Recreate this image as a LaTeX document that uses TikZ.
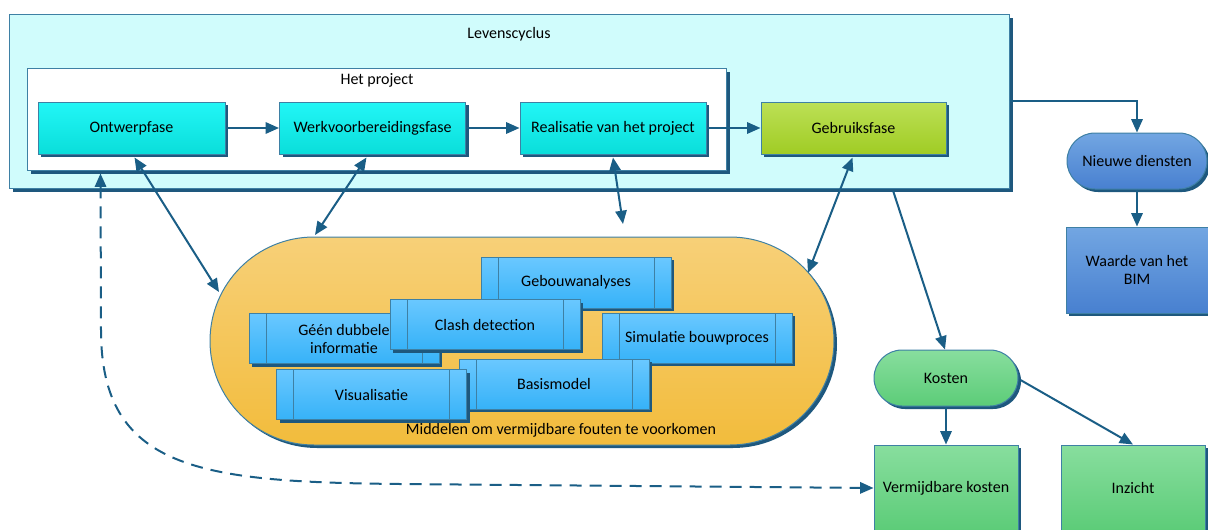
\documentclass[tikz,border=0pt]{standalone}
\usepackage{fontspec}
\setmainfont{Carlito}
\usetikzlibrary{arrows.meta,shadows,calc}

\definecolor{arrowc}{RGB}{26,94,134}
\definecolor{edgec}{RGB}{62,128,164}
\definecolor{shadowc}{RGB}{30,88,126}
\definecolor{lifec}{RGB}{208,252,252}
\definecolor{cyantop}{RGB}{34,246,246}
\definecolor{cyanbot}{RGB}{10,222,218}
\definecolor{limetop}{RGB}{188,224,86}
\definecolor{limebot}{RGB}{160,204,36}
\definecolor{bluetop}{RGB}{114,166,226}
\definecolor{bluebot}{RGB}{72,128,208}
\definecolor{greentop}{RGB}{136,222,158}
\definecolor{greenbot}{RGB}{92,204,120}
\definecolor{oratop}{RGB}{247,208,120}
\definecolor{orabot}{RGB}{242,188,60}
\definecolor{skytop}{RGB}{106,200,255}
\definecolor{skybot}{RGB}{54,178,248}

\tikzset{
  sz/.style 2 args={minimum width=#1*0.75pt, minimum height=#2*0.75pt},
  txt/.style={font=\fontsize{12}{13.5}\selectfont, text=black, align=center},
  base/.style={txt, draw=edgec, line width=0.75pt, inner sep=1pt,
    drop shadow={shadow xshift=2.25pt, shadow yshift=-2.25pt, fill=shadowc, opacity=1}},
  bigbox/.style={txt, draw=edgec, line width=0.75pt, inner sep=0pt,
    drop shadow={shadow xshift=3pt, shadow yshift=-3pt, fill=shadowc, opacity=1}},
  phase/.style={base, shading=axis, top color=cyantop, bottom color=cyanbot},
  usephase/.style={base, shading=axis, top color=limetop, bottom color=limebot},
  bluebox/.style={base, shading=axis, top color=bluetop, bottom color=bluebot},
  greenbox/.style={base, shading=axis, top color=greentop, bottom color=greenbot},
  subbox/.style={base, sz={190}{50}, shading=axis, top color=skytop, bottom color=skybot,
    path picture={
      \draw[edgec, line width=0.75pt]
        ([xshift=12.75pt]path picture bounding box.north west) --
        ([xshift=12.75pt]path picture bounding box.south west)
        ([xshift=-12.75pt]path picture bounding box.north east) --
        ([xshift=-12.75pt]path picture bounding box.south east);
    }},
  arr/.style={draw=arrowc, line width=1.5pt,
    -{Triangle[length=10pt, width=8.5pt]}},
  dbl/.style={draw=arrowc, line width=1.5pt,
    {Triangle[length=10pt, width=8.5pt]}-{Triangle[length=10pt, width=8.5pt]}},
}

\begin{document}
\begin{tikzpicture}[x=0.75pt, y=-0.75pt]
  \useasboundingbox (0,0) rectangle (1208,529);

  % life cycle frame and project frame
  \node[bigbox, fill=lifec, sz={1000}{174}] (lev) at (509,101) {};
  \node[txt] (levlabel) at (509,34) {Levenscyclus};
  \node[bigbox, fill=white, sz={699}{102}] (proj) at (376.5,119) {};
  \node[txt] (projlabel) at (377,80) {Het project};

  % phases
  \node[phase, sz={187}{52}] (ontwerp) at (131.5,128) {Ontwerpfase};
  \node[phase, sz={186}{52}] (werk) at (372.5,128) {Werkvoorbereidingsfase};
  \node[phase, sz={186}{52}] (real) at (613,128) {Realisatie van het project};
  \node[usephase, sz={185}{52}] (gebruik) at (853.5,128) {Gebruiksfase};

  \draw[arr] (ontwerp) -- (werk);
  \draw[arr] (werk) -- (real);
  \draw[arr] (real) -- (gebruik);

  % means to avoid errors
  \node[base, sz={624}{208}, rounded corners=78pt, shading=axis,
        top color=oratop, bottom color=orabot] (mid) at (522,341) {};
  \node[txt] (midlabel) at (561,430) {Middelen om vermijdbare fouten te voorkomen};

  \node[subbox, sz={190}{51}] (geb) at (576,282.5) {Gebouwanalyses};
  \node[subbox] (geen) at (344,338.5) {Géén dubbele\\informatie};
  \node[subbox] (clash) at (485,324.5) {Clash detection};
  \node[subbox] (sim) at (697,338) {Simulatie bouwproces};
  \node[subbox] (basis) at (554,384) {Basismodel};
  \node[subbox] (vis) at (371.5,394.5) {Visualisatie};

  % links between phases and means
  \coordinate (realfree) at (623,224);
  \draw[dbl] ($(ontwerp.south)+(3,3)$) -- ($(mid.center)+(-303,-49)$);
  \draw[dbl] ($(werk.south)+(-6,3)$) -- ($(mid.center)+(-207,-106)$);
  \draw[dbl] ($(real.south)+(0,3)$) -- (realfree);
  \draw[dbl] ($(gebruik.south)+(-1,3)$) -- ($(mid.center)+(286,-68)$);

  % outcomes
  \node[bluebox, sz={140}{56}, rounded corners=21pt] (nieuwe) at (1137,161) {Nieuwe diensten};
  \node[bluebox, sz={142}{86}] (waarde) at (1137,270) {Waarde van het\\BIM};
  \node[greenbox, sz={144}{56}, rounded corners=21pt] (kosten) at (946,378) {Kosten};
  \node[greenbox, sz={144}{86}] (verm) at (946,488) {Vermijdbare kosten};
  \node[greenbox, sz={144}{86}] (inzicht) at (1133,488) {Inzicht};

  \draw[arr] (lev.east) -| (nieuwe.north);
  \draw[arr] (nieuwe) -- (waarde);
  \draw[arr] ($(lev.south)+(384,2)$) -- ($(kosten.north)+(-1,0)$);
  \draw[arr] (kosten) -- (verm);
  \draw[arr] ($(kosten.east)+(2,2)$) -- (inzicht.north);

  % avoidable costs feed back into the design
  \draw[dbl, dash pattern=on 9pt off 6pt]
    ($(proj.south west)+(74,3)$) -- (101,330)
    .. controls (101,470) and (200,482) .. (400,484) -- (verm.west);
\end{tikzpicture}
\end{document}
